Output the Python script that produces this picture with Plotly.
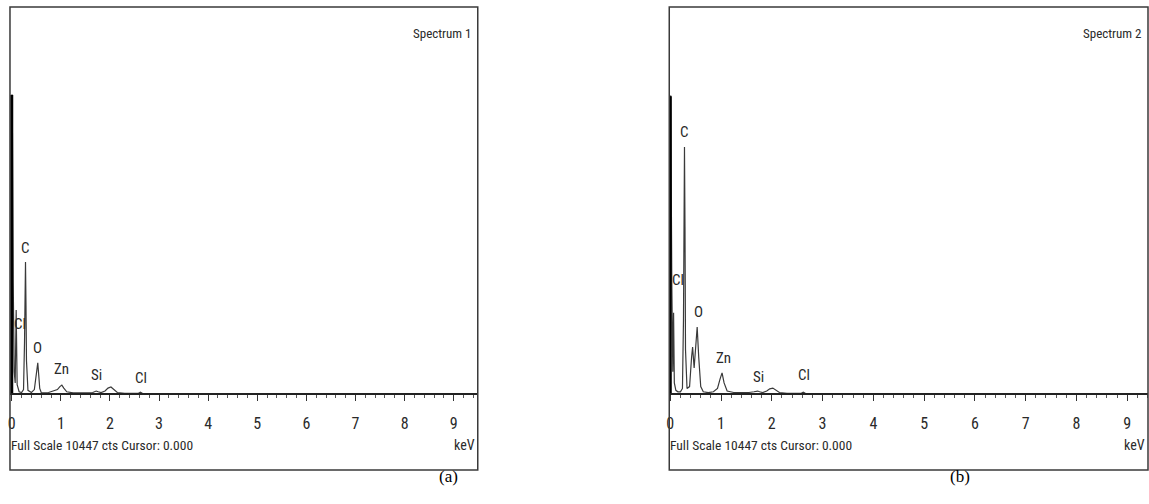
import plotly.graph_objects as go

# ---------------- data ----------------
FULL_SCALE = 10447  # cts at top of each panel

# Spectrum 1 (panel a): energy (keV) and counts
keV_a = [0.00, 0.00, 0.01, 0.03, 0.05, 0.07, 0.09, 0.11, 0.15, 0.20, 0.24, 0.26, 0.27, 0.28, 0.29,
         0.30, 0.33, 0.40, 0.46, 0.50, 0.53, 0.55, 0.57, 0.60, 0.66, 0.75, 0.85, 0.93, 0.98,
         1.02, 1.06, 1.12, 1.25, 1.40, 1.55, 1.65, 1.72, 1.76, 1.82, 1.90, 1.96, 2.02, 2.08,
         2.15, 2.30, 2.50, 2.58, 2.62, 2.66, 2.75, 3.0, 4.0, 5.0, 6.0, 7.0, 8.0, 9.0, 9.5]
cts_a = [0, 8070, 8070, 3000, 600, 300, 2270, 250, 60, 40, 120, 1400, 2600, 3560, 2400,
         900, 100, 40, 120, 500, 840, 500, 150, 40, 30, 40, 80, 120, 200,
         240, 160, 60, 30, 20, 30, 40, 80, 60, 40, 80, 160, 190, 120,
         40, 20, 15, 20, 50, 20, 10, 10, 10, 10, 10, 8, 8, 8, 8]

# Spectrum 2 (panel b)
keV_b = [0.00, 0.00, 0.01, 0.03, 0.05, 0.065, 0.08, 0.11, 0.15, 0.20, 0.24, 0.26, 0.27, 0.28, 0.29,
         0.30, 0.33, 0.38, 0.42, 0.44, 0.47, 0.50, 0.53, 0.56, 0.60, 0.65, 0.75, 0.85, 0.93, 0.98,
         1.02, 1.06, 1.12, 1.25, 1.40, 1.55, 1.65, 1.72, 1.76, 1.82, 1.90, 1.96, 2.02, 2.08,
         2.15, 2.30, 2.50, 2.58, 2.62, 2.66, 2.75, 3.0, 4.0, 5.0, 6.0, 7.0, 8.0, 9.0, 9.5]
cts_b = [0, 8040, 8040, 3000, 600, 2190, 300, 100, 60, 60, 150, 2000, 5200, 6670, 4500,
         1200, 150, 200, 1000, 1270, 700, 1300, 1810, 1000, 200, 60, 40, 60, 150, 400,
         570, 300, 80, 40, 30, 40, 60, 80, 60, 40, 80, 140, 160, 100,
         40, 20, 15, 20, 50, 20, 10, 10, 10, 10, 10, 8, 8, 8, 8]

# element labels: (text, keV, counts)
labels_text = ["C", "Cl", "O", "Zn", "Si", "Cl"]
labels_keV_a = [0.27, 0.17, 0.53, 1.02, 1.73, 2.63]
labels_cts_a = [3940, 1900, 1240, 675, 510, 430]
labels_keV_b = [0.275, 0.16, 0.55, 1.04, 1.73, 2.63]
labels_cts_b = [7070, 3080, 2210, 970, 460, 510]

spectrum_names = ["Spectrum 1", "Spectrum 2"]
panel_tags = ["(a)", "(b)"]
footer_text = "Full Scale 10447 cts Cursor: 0.000"
x_tick_vals = list(range(0, 10))

# ---------------- layout geometry ----------------
W, H = 1149, 504
NARROW = "Liberation Sans Narrow, Arial Narrow, Roboto Condensed, DejaVu Sans Condensed, sans-serif"
TXT = "#2a2a2a"

panels = [
    dict(x0=7, x1=476, xr=[-0.036, 9.49], keV=keV_a, cts=cts_a,
         lk=labels_keV_a, lc=labels_cts_a, tag_x=447),
    dict(x0=668, x1=1148, xr=[-0.02, 9.41], keV=keV_b, cts=cts_b,
         lk=labels_keV_b, lc=labels_cts_b, tag_x=972),
]
top_px, bot_px, base_px = 7, 470, 394
px_per_ct = (base_px - top_px) / FULL_SCALE
y_min = -(bot_px - base_px) / px_per_ct
ydom = [(H - bot_px) / H, (H - top_px) / H]
base_paper = (H - base_px) / H

fig = go.Figure()
annotations = []
shapes = []

for i, p in enumerate(panels):
    sfx = "" if i == 0 else str(i + 1)
    xa, ya = "x" + sfx, "y" + sfx
    dom = [p["x0"] / W, p["x1"] / W]

    fig.add_trace(go.Scatter(x=p["keV"], y=p["cts"], mode="lines",
                             line=dict(color="#3a3a3a", width=1.2),
                             xaxis=xa, yaxis=ya, showlegend=False, hoverinfo="skip"))
    # strobe (zero-energy) peak drawn heavier
    fig.add_trace(go.Scatter(x=p["keV"][:2], y=p["cts"][:2], mode="lines",
                             line=dict(color="#000000", width=3),
                             xaxis=xa, yaxis=ya, showlegend=False, hoverinfo="skip"))

    fig.update_layout(**{
        "xaxis" + sfx: dict(domain=dom, range=p["xr"], anchor="free", position=base_paper,
                            showline=True, linecolor="#222222", linewidth=2,
                            ticks="outside", ticklen=6, tickwidth=1.2, tickcolor="#333333",
                            tickmode="array", tickvals=x_tick_vals,
                            minor=dict(tickmode="linear", tick0=0, dtick=0.2, ticks="outside",
                                       ticklen=3, tickcolor="#555555", tickwidth=1),
                            showgrid=False, zeroline=False,
                            tickfont=dict(family=NARROW, size=16, color=TXT),
                            ticklabelstandoff=9, fixedrange=True),
        "yaxis" + sfx: dict(domain=ydom, range=[y_min, FULL_SCALE], visible=False,
                            anchor="free", position=dom[0], fixedrange=True),
    })

    shapes.append(dict(type="rect", xref=xa + " domain", yref=ya + " domain",
                       x0=0, x1=1, y0=0, y1=1, line=dict(color="#3a3a3a", width=1.5)))

    for t, kx, cy in zip(labels_text, p["lk"], p["lc"]):
        annotations.append(dict(x=kx, y=cy, xref=xa, yref=ya, text=t, showarrow=False,
                                font=dict(family=NARROW, size=15, color=TXT)))

    annotations.append(dict(x=(p["x1"] - 4) / W, y=(H - 24) / H, xref="paper", yref="paper",
                            text=spectrum_names[i], showarrow=False, xanchor="right",
                            font=dict(family=NARROW, size=13, color=TXT)))
    annotations.append(dict(x=(p["x0"] - 1) / W, y=(H - 455) / H, xref="paper", yref="paper",
                            text=footer_text, showarrow=False, xanchor="left",
                            font=dict(family=NARROW, size=13.5, color=TXT)))
    annotations.append(dict(x=(p["x1"] - 1) / W, y=(H - 455) / H, xref="paper", yref="paper",
                            text="keV", showarrow=False, xanchor="right",
                            font=dict(family=NARROW, size=14, color=TXT)))
    annotations.append(dict(x=p["tag_x"] / W, y=(H - 488) / H, xref="paper", yref="paper",
                            text=panel_tags[i], showarrow=False,
                            font=dict(family="Liberation Serif, Times New Roman, serif",
                                      size=17, color="#000000")))

fig.update_layout(width=W, height=H, margin=dict(l=0, r=0, t=0, b=0),
                  paper_bgcolor="white", plot_bgcolor="white",
                  annotations=annotations, shapes=shapes, showlegend=False)

fig.write_html("out.html", config={"displayModeBar": False},
               post_script="document.body.style.margin='0';document.body.style.padding='0';"
                           "document.body.style.overflow='hidden';")
